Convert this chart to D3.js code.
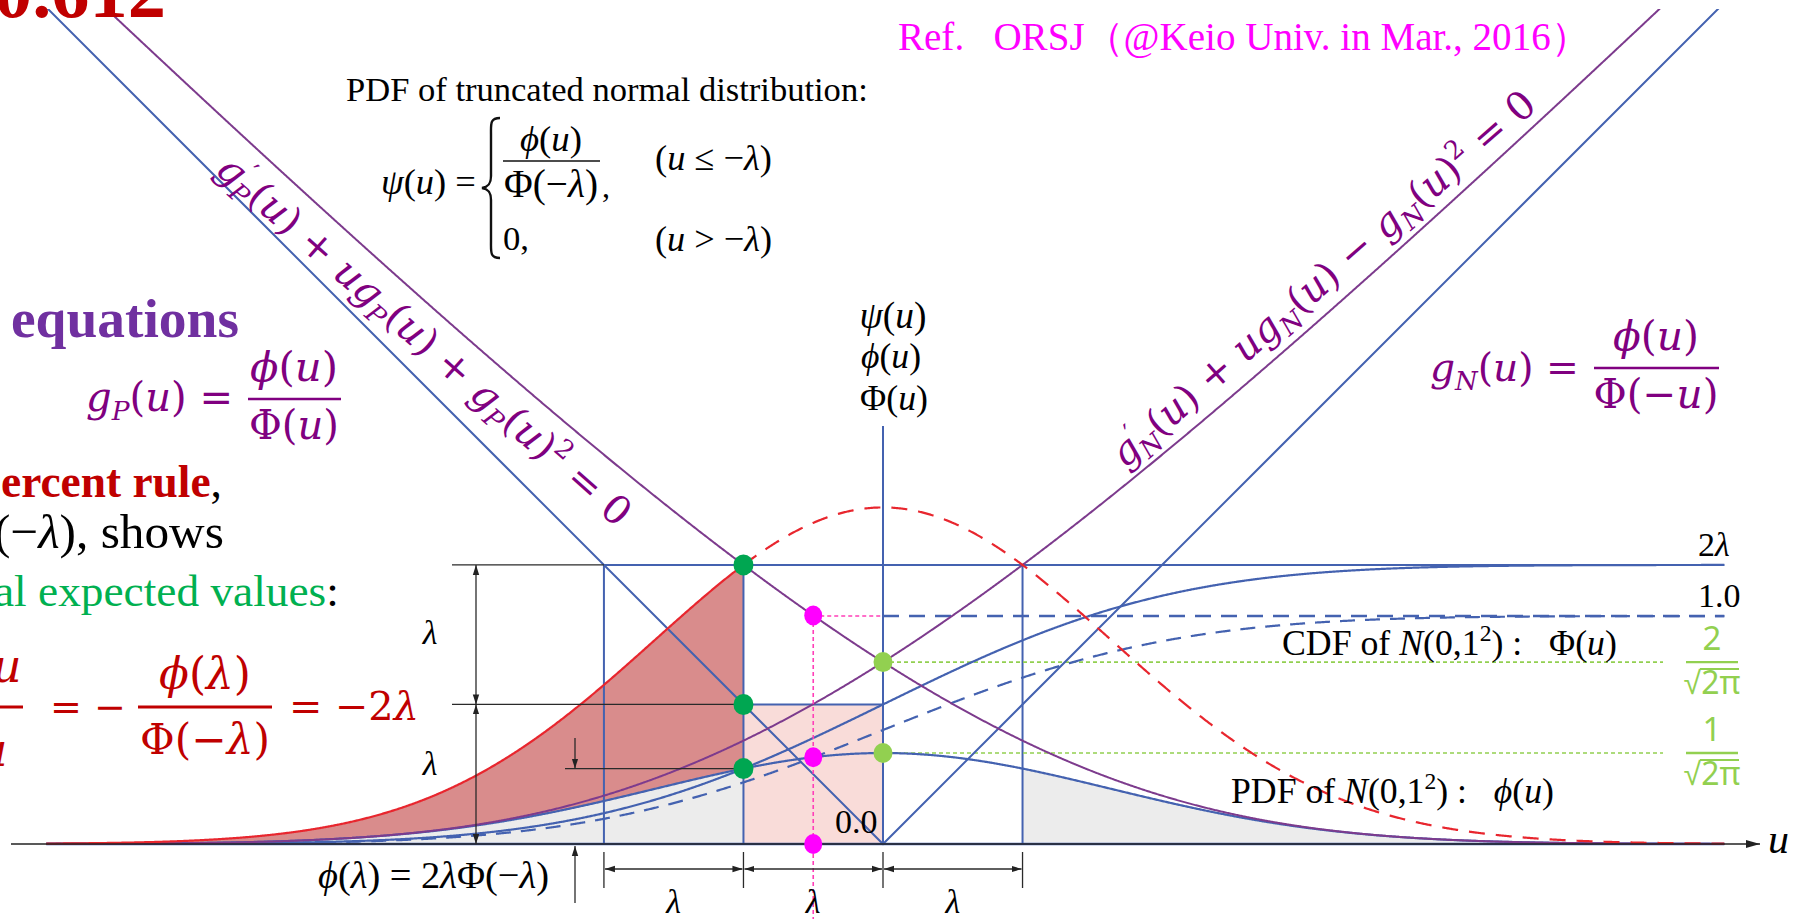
<!DOCTYPE html>
<html>
<head>
<meta charset="utf-8">
<script src="https://cdn.jsdelivr.net/npm/d3@7"></script>
<style>
  body { margin: 0; background: #fff; }
  svg { display: block; }
  text { white-space: pre; }
</style>
</head>
<body>
<svg id="chart" width="1796" height="919"></svg>
<script>
// ---- values shown in the figure ----
const LAMBDA = 0.612;                       // threshold where phi(λ) = 2λΦ(−λ)
const U_RANGE = [-3.67, 3.69];              // horizontal extent of the curves
const guideU = [-2 * LAMBDA, -LAMBDA, LAMBDA];      // vertical guide lines
const levelValues = [2 * LAMBDA, 1.0];              // right-hand level labels
const levelLabels = ["2λ", "1.0"];
const densityLevels = [2 / Math.sqrt(2 * Math.PI), 1 / Math.sqrt(2 * Math.PI)];
const densityNumerators = ["2", "1"];
const bracketU = [-2 * LAMBDA, -LAMBDA, 0, LAMBDA]; // bottom dimension ticks
const greenDotU = [-LAMBDA, -LAMBDA, -LAMBDA];
const midU = -LAMBDA / 2;

// ---- colours & fonts ----
const BLUE = "#4462b0", PURPLE = "#7d3b8d", RED = "#e8262e";
const TXT_PURPLE = "#800080", DARK_RED = "#c00000";
const SERIF = "'Liberation Serif', 'Times New Roman', serif";
const MATH = "'DejaVu Serif', serif";

// ---- standard normal helpers ----
function erfc(xv) {
  const z = Math.abs(xv), t = 1 / (1 + 0.5 * z);
  const r = t * Math.exp(-z * z - 1.26551223 + t * (1.00002368 + t * (0.37409196 + t * (0.09678418 +
    t * (-0.18628806 + t * (0.27886807 + t * (-1.13520398 + t * (1.48851587 + t * (-0.82215223 + t * 0.17087277)))))))));
  return xv >= 0 ? r : 2 - r;
}
const phi = u => Math.exp(-u * u / 2) / Math.sqrt(2 * Math.PI);
const Phi = u => 0.5 * erfc(-u / Math.SQRT2);
const gP = u => phi(u) / Phi(u);
const gN = u => phi(u) / Phi(-u);
const psiExt = u => phi(u) / Phi(-LAMBDA);

// ---- scales ----
const x = d3.scaleLinear().domain([-1, 1]).range([883 - 228, 883 + 228]);
const y = d3.scaleLinear().domain([0, 1]).range([844, 616]);

const svg = d3.select("#chart");
const defs = svg.append("defs");
defs.append("clipPath").attr("id", "plotClip")
  .append("rect").attr("x", 0).attr("y", 9).attr("width", 1796).attr("height", 910);
defs.append("marker").attr("id", "ah").attr("viewBox", "0 0 10 8")
  .attr("refX", 10).attr("refY", 4).attr("markerWidth", 10).attr("markerHeight", 8)
  .attr("markerUnits", "userSpaceOnUse").attr("orient", "auto-start-reverse")
  .append("path").attr("d", "M0,0.8 L10,4 L0,7.2 Z").attr("fill", "#222");
defs.append("marker").attr("id", "axisHead").attr("viewBox", "0 0 14 10")
  .attr("refX", 14).attr("refY", 5).attr("markerWidth", 14).attr("markerHeight", 10)
  .attr("markerUnits", "userSpaceOnUse").attr("orient", "auto")
  .append("path").attr("d", "M0,1 L14,5 L0,9 Z").attr("fill", "#222");

const sample = (f, a, b, step = 0.004) => {
  const pts = d3.range(a, b, step).map(u => [u, f(u)]);
  pts.push([b, f(b)]);
  return pts;
};
const line = d3.line().x(d => x(d[0])).y(d => y(d[1]));
const area = d3.area().x(d => x(d[0])).y0(d => y(d[2])).y1(d => y(d[1]));

const plot = svg.append("g").attr("clip-path", "url(#plotClip)");

// ---- filled regions ----
const tailL = d3.range(U_RANGE[0], -LAMBDA, 0.004).map(u => [u, phi(u), 0]).concat([[-LAMBDA, phi(-LAMBDA), 0]]);
const tailR = d3.range(LAMBDA, U_RANGE[1], 0.004).map(u => [u, phi(u), 0]).concat([[U_RANGE[1], phi(U_RANGE[1]), 0]]);
plot.append("path").attr("d", area(tailL)).attr("fill", "#ececec");
plot.append("path").attr("d", area(tailR)).attr("fill", "#ececec");
const excess = d3.range(U_RANGE[0], -LAMBDA, 0.004).map(u => [u, psiExt(u), phi(u)])
  .concat([[-LAMBDA, psiExt(-LAMBDA), phi(-LAMBDA)]]);
plot.append("path").attr("d", area(excess)).attr("fill", "#d98c8c");
plot.append("rect")
  .attr("x", x(-LAMBDA)).attr("y", y(LAMBDA))
  .attr("width", x(0) - x(-LAMBDA)).attr("height", y(0) - y(LAMBDA))
  .attr("fill", "#f9dcd9");

// ---- axis ----
svg.append("line").attr("x1", 11).attr("x2", 1760).attr("y1", y(0)).attr("y2", y(0))
  .attr("stroke", "#222").attr("stroke-width", 1.6).attr("marker-end", "url(#axisHead)");
plot.append("line").attr("x1", x(U_RANGE[0])).attr("x2", x(U_RANGE[1]))
  .attr("y1", y(0)).attr("y2", y(0)).attr("stroke", BLUE).attr("stroke-width", 2.4);

// ---- guide lines ----
const guides = plot.append("g").attr("stroke", BLUE).attr("stroke-width", 2).attr("fill", "none");
guideU.forEach(u => guides.append("line")
  .attr("x1", x(u)).attr("x2", x(u)).attr("y1", y(2 * LAMBDA)).attr("y2", y(0)));
guides.append("line").attr("x1", x(0)).attr("x2", x(0)).attr("y1", 426).attr("y2", y(0));
guides.append("line").attr("x1", x(-2 * LAMBDA)).attr("x2", x(U_RANGE[1]))
  .attr("y1", y(2 * LAMBDA)).attr("y2", y(2 * LAMBDA));
guides.append("line").attr("x1", x(-LAMBDA)).attr("x2", x(0))
  .attr("y1", y(LAMBDA)).attr("y2", y(LAMBDA));

// dashed level at 1.0 and the dotted density levels
plot.append("line").attr("x1", x(0)).attr("x2", x(U_RANGE[1])).attr("y1", y(1)).attr("y2", y(1))
  .attr("stroke", BLUE).attr("stroke-width", 2.4).attr("stroke-dasharray", "16,10");
densityLevels.forEach(v => plot.append("line")
  .attr("x1", x(0)).attr("x2", 1663).attr("y1", y(v)).attr("y2", y(v))
  .attr("stroke", "#92d050").attr("stroke-width", 1.6).attr("stroke-dasharray", "4,3"));
plot.append("line").attr("x1", x(midU)).attr("x2", x(0)).attr("y1", y(1)).attr("y2", y(1))
  .attr("stroke", "#ff3fb8").attr("stroke-width", 1.6).attr("stroke-dasharray", "4,3");
svg.append("line").attr("x1", x(midU)).attr("x2", x(midU)).attr("y1", y(1)).attr("y2", 919)
  .attr("stroke", "#ff3fb8").attr("stroke-width", 1.6).attr("stroke-dasharray", "4,3");

// ---- curves ----
const curve = (pts, color, w, dash) => {
  const p = plot.append("path").attr("d", line(pts)).attr("fill", "none")
    .attr("stroke", color).attr("stroke-width", w);
  if (dash) p.attr("stroke-dasharray", dash);
  return p;
};
curve(sample(Phi, U_RANGE[0], U_RANGE[1]), BLUE, 2.2, "15,10");
curve(sample(u => 2 * LAMBDA * Phi(u), U_RANGE[0], U_RANGE[1]), BLUE, 2.2);
curve(sample(phi, U_RANGE[0], U_RANGE[1]), BLUE, 2.2);
curve([[U_RANGE[0], -U_RANGE[0]], [0, 0], [U_RANGE[1], U_RANGE[1]]], BLUE, 2);
curve(sample(gP, U_RANGE[0], U_RANGE[1]), PURPLE, 2);
curve(sample(gN, U_RANGE[0], U_RANGE[1]), PURPLE, 2);
curve(sample(psiExt, U_RANGE[0], -LAMBDA), RED, 2.2);
curve(sample(psiExt, -LAMBDA, U_RANGE[1]), RED, 2.2, "16,11");

// ---- dimension lines ----
const dim = svg.append("g").attr("stroke", "#2a2a2a").attr("stroke-width", 1.3).attr("fill", "none");
dim.append("line").attr("x1", 452).attr("x2", x(-2 * LAMBDA)).attr("y1", y(2 * LAMBDA)).attr("y2", y(2 * LAMBDA));
dim.append("line").attr("x1", 452).attr("x2", x(-LAMBDA)).attr("y1", y(LAMBDA)).attr("y2", y(LAMBDA));
dim.append("line").attr("x1", 476).attr("x2", 476).attr("y1", y(LAMBDA)).attr("y2", y(2 * LAMBDA))
  .attr("marker-end", "url(#ah)").attr("marker-start", "url(#ah)");
dim.append("line").attr("x1", 476).attr("x2", 476).attr("y1", y(0)).attr("y2", y(LAMBDA))
  .attr("marker-end", "url(#ah)").attr("marker-start", "url(#ah)");
// phi(λ) height marker
dim.append("line").attr("x1", 565).attr("x2", x(-LAMBDA)).attr("y1", y(phi(LAMBDA))).attr("y2", y(phi(LAMBDA)));
dim.append("line").attr("x1", 575).attr("x2", 575).attr("y1", 738).attr("y2", y(phi(LAMBDA)))
  .attr("marker-end", "url(#ah)");
dim.append("line").attr("x1", 575).attr("x2", 575).attr("y1", 903).attr("y2", y(0) + 2)
  .attr("marker-end", "url(#ah)");
// bottom brackets
bracketU.forEach(u => dim.append("line").attr("x1", x(u)).attr("x2", x(u)).attr("y1", 852).attr("y2", 888));
d3.pairs(bracketU).forEach(([a, b]) => dim.append("line")
  .attr("x1", x(a) + 1).attr("x2", x(b) - 1).attr("y1", 869).attr("y2", 869)
  .attr("marker-start", "url(#ah)").attr("marker-end", "url(#ah)"));

// ---- points ----
const dots = svg.append("g");
const dot = (u, v, c, rx, ry) => dots.append("ellipse").attr("cx", x(u)).attr("cy", y(v))
  .attr("rx", rx).attr("ry", ry).attr("fill", c);
[2 * LAMBDA, LAMBDA, phi(LAMBDA)].forEach((v, i) => dot(greenDotU[i], v, "#00a651", 10, 10.5));
densityLevels.forEach(v => dot(0, v, "#92d050", 9.5, 10));
[gP(midU), phi(midU), 0].forEach(v => dot(midU, v, "#ff00ff", 9, 10));

// ---- text helpers ----
function richText(parent, items, o) {
  const t = parent.append("text").attr("x", o.x || 0).attr("y", o.y || 0)
    .attr("font-family", o.family || SERIF).attr("font-size", o.size)
    .attr("fill", o.fill || "#000").attr("text-anchor", o.anchor || "start");
  if (o.weight) t.attr("font-weight", o.weight);
  let shift = 0;
  items.forEach(it => {
    const [s, f = "", dx, col] = it;
    const sp = t.append("tspan").text(s);
    let target = 0;
    if (f.includes("s")) target = 0.22 * o.size;
    if (f.includes("p")) target = -0.4 * o.size;
    if (target !== shift) { sp.attr("dy", target - shift); shift = target; }
    if (f.includes("s") || f.includes("p")) sp.attr("font-size", 0.66 * o.size);
    if (f.includes("i")) sp.attr("font-style", "italic");
    if (f.includes("b")) sp.attr("font-weight", "bold");
    if (dx) sp.attr("dx", dx * o.size);
    if (col) sp.attr("fill", col);
  });
  return t;
}
function fitted(parent, items, o, width) {
  const probe = richText(parent, items, { ...o, size: 40 });
  const w = probe.node().getBBox().width;
  probe.remove();
  return richText(parent, items, { ...o, size: 40 * width / w });
}
const hline = (x1, x2, yy, c, w) => svg.append("line").attr("x1", x1).attr("x2", x2)
  .attr("y1", yy).attr("y2", yy).attr("stroke", c).attr("stroke-width", w);

// ---- top texts ----
fitted(svg, [["0.612", "b"]], { x: 166, y: 17, anchor: "end", fill: DARK_RED }, 172);
fitted(svg, [["Ref.   ORSJ（@Keio Univ. in Mar., 2016）"]], { x: 898, y: 50, fill: "#ff00ff" }, 692);
fitted(svg, [["PDF of truncated normal distribution:"]], { x: 346, y: 101 }, 522);

// truncated pdf definition
fitted(svg, [["ψ", "i"], ["("], ["u", "i"], [") ="]], { x: 381, y: 194 }, 95);
svg.append("path")
  .attr("d", "M500,118 C490,118 491,124 491,134 L491,176 C491,184 488,187 482,188 C488,189 491,192 491,200 L491,242 C491,252 490,258 500,258")
  .attr("fill", "none").attr("stroke", "#111").attr("stroke-width", 2.4);
fitted(svg, [["ϕ", "i"], ["("], ["u", "i"], [")"]], { x: 551, y: 151, anchor: "middle" }, 62);
hline(503, 600, 161, "#111", 1.6);
fitted(svg, [["Φ(−"], ["λ", "i"], [")"]], { x: 551, y: 197, anchor: "middle" }, 94);
richText(svg, [[","]], { x: 602, y: 197, size: 32 });
fitted(svg, [["("], ["u", "i"], [" ≤ −"], ["λ", "i"], [")"]], { x: 655, y: 170 }, 117);
fitted(svg, [["0,"]], { x: 503, y: 250 }, 26);
fitted(svg, [["("], ["u", "i"], [" > −"], ["λ", "i"], [")"]], { x: 655, y: 251 }, 117);

// vertical axis titles
fitted(svg, [["ψ", "i"], ["("], ["u", "i"], [")"]], { x: 893, y: 328, anchor: "middle" }, 67);
fitted(svg, [["ϕ", "i"], ["("], ["u", "i"], [")"]], { x: 891, y: 368, anchor: "middle" }, 60);
fitted(svg, [["Φ("], ["u", "i"], [")"]], { x: 894, y: 410, anchor: "middle" }, 68);

// ---- left-hand notes ----
fitted(svg, [["equations", "b"]], { x: 11, y: 337, fill: "#7030a0" }, 228);
fitted(svg, [["g", "i"], ["P", "si"], ["("], ["u", "i"], [") ="]], { x: 86, y: 411, family: MATH, fill: TXT_PURPLE }, 147);
fitted(svg, [["ϕ", "i"], ["("], ["u", "i"], [")"]], { x: 294, y: 381, anchor: "middle", family: MATH, fill: TXT_PURPLE }, 88);
hline(248, 341, 399, TXT_PURPLE, 2.5);
fitted(svg, [["Φ("], ["u", "i"], [")"]], { x: 294, y: 439, anchor: "middle", family: MATH, fill: TXT_PURPLE }, 90);

fitted(svg, [["ercent rule", "b"], [",", "", 0, "#000"]], { x: 1, y: 497, fill: DARK_RED }, 221);
fitted(svg, [["(−"], ["λ", "i"], ["), shows"]], { x: -6, y: 548 }, 230);
fitted(svg, [["al expected values"], [":", "", 0, "#000"]], { x: -6, y: 606, fill: "#00b050" }, 345);

// red identity
richText(svg, [["u", "i"]], { x: -8, y: 682, size: 46, family: MATH, fill: DARK_RED });
hline(0, 23, 707, DARK_RED, 3);
richText(svg, [["u", "i"]], { x: -22, y: 766, size: 46, family: MATH, fill: DARK_RED });
fitted(svg, [["= −"]], { x: 50, y: 720, family: MATH, fill: DARK_RED }, 76);
fitted(svg, [["ϕ", "i"], ["("], ["λ", "i"], [")"]], { x: 205, y: 689, anchor: "middle", family: MATH, fill: DARK_RED }, 92);
hline(138, 272, 707, DARK_RED, 3);
fitted(svg, [["Φ(−"], ["λ", "i"], [")"]], { x: 205, y: 754, anchor: "middle", family: MATH, fill: DARK_RED }, 130);
fitted(svg, [["= −2"], ["λ", "i"]], { x: 289, y: 720, family: MATH, fill: DARK_RED }, 130);

// ---- equations along the curves ----
const gPlab = svg.append("g").attr("transform", "translate(214,172) rotate(41.5)");
fitted(gPlab, [["g", "i"], ["′", "p"], ["P", "si", -0.17], ["("], ["u", "i"], [") + "], ["u", "i"], ["g", "i"], ["P", "si"],
  ["("], ["u", "i"], [") + "], ["g", "i"], ["P", "si"], ["("], ["u", "i"], [")"], ["2", "p"], [" = 0"]],
  { family: MATH, fill: TXT_PURPLE }, 538);
const gNlab = svg.append("g").attr("transform", "translate(1125,469) rotate(-41.1)");
fitted(gNlab, [["g", "i"], ["′", "p"], ["N", "si", -0.17], ["("], ["u", "i"], [") + "], ["u", "i"], ["g", "i"], ["N", "si"],
  ["("], ["u", "i"], [") − "], ["g", "i"], ["N", "si"], ["("], ["u", "i"], [")"], ["2", "p"], [" = 0"]],
  { family: MATH, fill: TXT_PURPLE }, 549);

// g_N definition
fitted(svg, [["g", "i"], ["N", "si"], ["("], ["u", "i"], [") ="]], { x: 1430, y: 381, family: MATH, fill: TXT_PURPLE }, 149);
fitted(svg, [["ϕ", "i"], ["("], ["u", "i"], [")"]], { x: 1656, y: 350, anchor: "middle", family: MATH, fill: TXT_PURPLE }, 86);
hline(1594, 1719, 368, TXT_PURPLE, 2.5);
fitted(svg, [["Φ(−"], ["u", "i"], [")"]], { x: 1656, y: 408, anchor: "middle", family: MATH, fill: TXT_PURPLE }, 125);

// ---- level labels ----
levelValues.forEach((v, i) => {
  const items = levelLabels[i] === "2λ" ? [["2"], ["λ", "i"]] : [[levelLabels[i]]];
  richText(svg, items, { x: 1698, y: y(v) - 9, size: 34 });
});
richText(svg, [["0.0"]], { x: 835, y: 833, size: 34 });

densityLevels.forEach((v, i) => {
  const cy = y(v);
  const g = svg.append("g").attr("fill", "#92d050").attr("font-family", "'Noto Sans', sans-serif");
  g.append("text").attr("x", 1712).attr("y", cy - 12).attr("text-anchor", "middle").attr("font-size", 33)
    .text(densityNumerators[i]);
  hline(1686, 1738, cy, "#92d050", 2.4);
  g.append("text").attr("x", 1712).attr("y", cy + 32).attr("text-anchor", "middle").attr("font-size", 32)
    .text("√2π");
  hline(1700, 1739, cy + 7, "#92d050", 2);
});

fitted(svg, [["CDF of "], ["N", "i"], ["(0,1"], ["2", "p"], [") :   Φ("], ["u", "i"], [")"]], { x: 1282, y: 655 }, 335);
fitted(svg, [["PDF of "], ["N", "i"], ["(0,1"], ["2", "p"], [") :   "], ["ϕ", "i"], ["("], ["u", "i"], [")"]], { x: 1231, y: 803 }, 323);

richText(svg, [["u", "i"]], { x: 1768, y: 853, size: 42 });
fitted(svg, [["ϕ", "i"], ["("], ["λ", "i"], [") = 2"], ["λ", "i"], ["Φ(−"], ["λ", "i"], [")"]], { x: 318, y: 888 }, 231);

// λ dimension labels
[[430, 644], [430, 775]].forEach(([lx, ly]) =>
  richText(svg, [["λ", "i"]], { x: lx, y: ly, size: 34, anchor: "middle" }));
d3.pairs(bracketU).forEach(([a, b]) =>
  richText(svg, [["λ", "i"]], { x: (x(a) + x(b)) / 2, y: 913, size: 34, anchor: "middle" }));
</script>
</body>
</html>
